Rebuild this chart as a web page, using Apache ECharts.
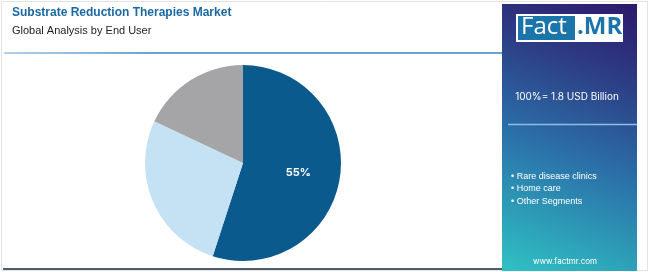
<!DOCTYPE html>
<html><head><meta charset="utf-8">
<script src="https://cdn.jsdelivr.net/npm/echarts@6/dist/echarts.min.js"></script>
<style>html,body{margin:0;padding:0;background:#fff}#c{width:650px;height:272px}</style>
</head><body><div id="c"></div>
<script>
const title = "Substrate Reduction Therapies Market";
const subtitle = "Global Analysis by End User";
const categories = ["Rare disease clinics", "Home care", "Other Segments"];
const values = [55, 27, 18];
const colors = ["#0b5a8e", "#c5e1f4", "#a5a5a7"];
const totalLabel = "100%= 1.8 USD Billion";
const website = "www.factmr.com";

const chart = echarts.init(document.getElementById('c'), null, {renderer: 'canvas'});
const legendChildren = categories.map((c, i) => ({
  type: 'text', left: 511, top: 172 + i * 12 + (i === 2 ? 1 : 0),
  style: {text: '\u2022 ' + c, fill: '#ffffff', font: '9px "Liberation Sans", sans-serif'}
}));
chart.setOption({
  animation: false,
  backgroundColor: '#ffffff',
  title: [
    {text: title, left: 12, top: 7, padding: 0, textStyle: {fontFamily: '"Liberation Sans", sans-serif', fontWeight: 'bold', fontSize: 12, color: '#1b69a3'}},
    {text: subtitle, left: 12, top: 25, padding: 0, textStyle: {fontFamily: '"Liberation Sans", sans-serif', fontWeight: 'normal', fontSize: 11, color: '#222222'}}
  ],
  graphic: [
    {type: 'rect', shape: {x: 1.5, y: 1.5, width: 646, height: 269}, style: {fill: 'none', stroke: '#e3e3e3', lineWidth: 1}, z: 0},
    {type: 'line', shape: {x1: 4, y1: 53, x2: 503, y2: 53}, style: {lineWidth: 1.5, stroke: new echarts.graphic.LinearGradient(0, 0, 1, 0, [{offset: 0, color: '#9cc3df'}, {offset: 0.3, color: '#2f86c4'}, {offset: 1, color: '#2f86c4'}])}},
    {type: 'line', shape: {x1: 3, y1: 269, x2: 503, y2: 269}, style: {lineWidth: 2, stroke: '#4f5d6c'}},
    {type: 'rect', shape: {x: 502, y: 4, width: 135, height: 267},
      style: {fill: new echarts.graphic.LinearGradient(0.1, 1, 0.9, 0, [
        {offset: 0, color: '#2fbfc2'}, {offset: 0.45, color: '#2b6ea8'}, {offset: 0.75, color: '#2d3d85'}, {offset: 1, color: '#2d1b6c'}])}},
    {type: 'rect', shape: {x: 516, y: 14, width: 107, height: 28}, style: {fill: '#ffffff'}},
    {type: 'rect', shape: {x: 518, y: 16, width: 57, height: 24}, style: {fill: '#1b74aa'}},
    {type: 'text', left: 521, top: 15, style: {text: 'Fact', fill: '#ffffff', font: '24px "Open Sans", sans-serif'}},
    {type: 'text', left: 577, top: 15, style: {text: '.MR', fill: '#1b74aa', font: 'bold 24px "Open Sans", sans-serif'}},
    {type: 'text', x: 567, y: 97, style: {text: totalLabel, fill: '#ffffff', font: '10px Inter, sans-serif', align: 'center', verticalAlign: 'middle'}},
    {type: 'line', shape: {x1: 508, y1: 124.5, x2: 637, y2: 124.5}, style: {lineWidth: 1.5, stroke: '#8fbde6'}},
    ...legendChildren,
    {type: 'text', x: 565, y: 262, style: {text: website, fill: '#ffffff', font: '8px Inter, sans-serif', align: 'center', verticalAlign: 'middle'}}
  ],
  series: [{
    type: 'pie',
    center: [243, 163],
    radius: [0, 98],
    startAngle: 90,
    clockwise: true,
    label: {show: true, position: 'inside', formatter: '{c}%', color: '#ffffff', fontWeight: 'bold', fontSize: 11, fontFamily: 'Inter, sans-serif', offset: [4, 2]},
    labelLine: {show: false},
    emphasis: {disabled: true},
    data: categories.map((c, i) => ({name: c, value: values[i], itemStyle: {color: colors[i]}, label: {show: i === 0}}))
  }]
});
</script></body></html>
